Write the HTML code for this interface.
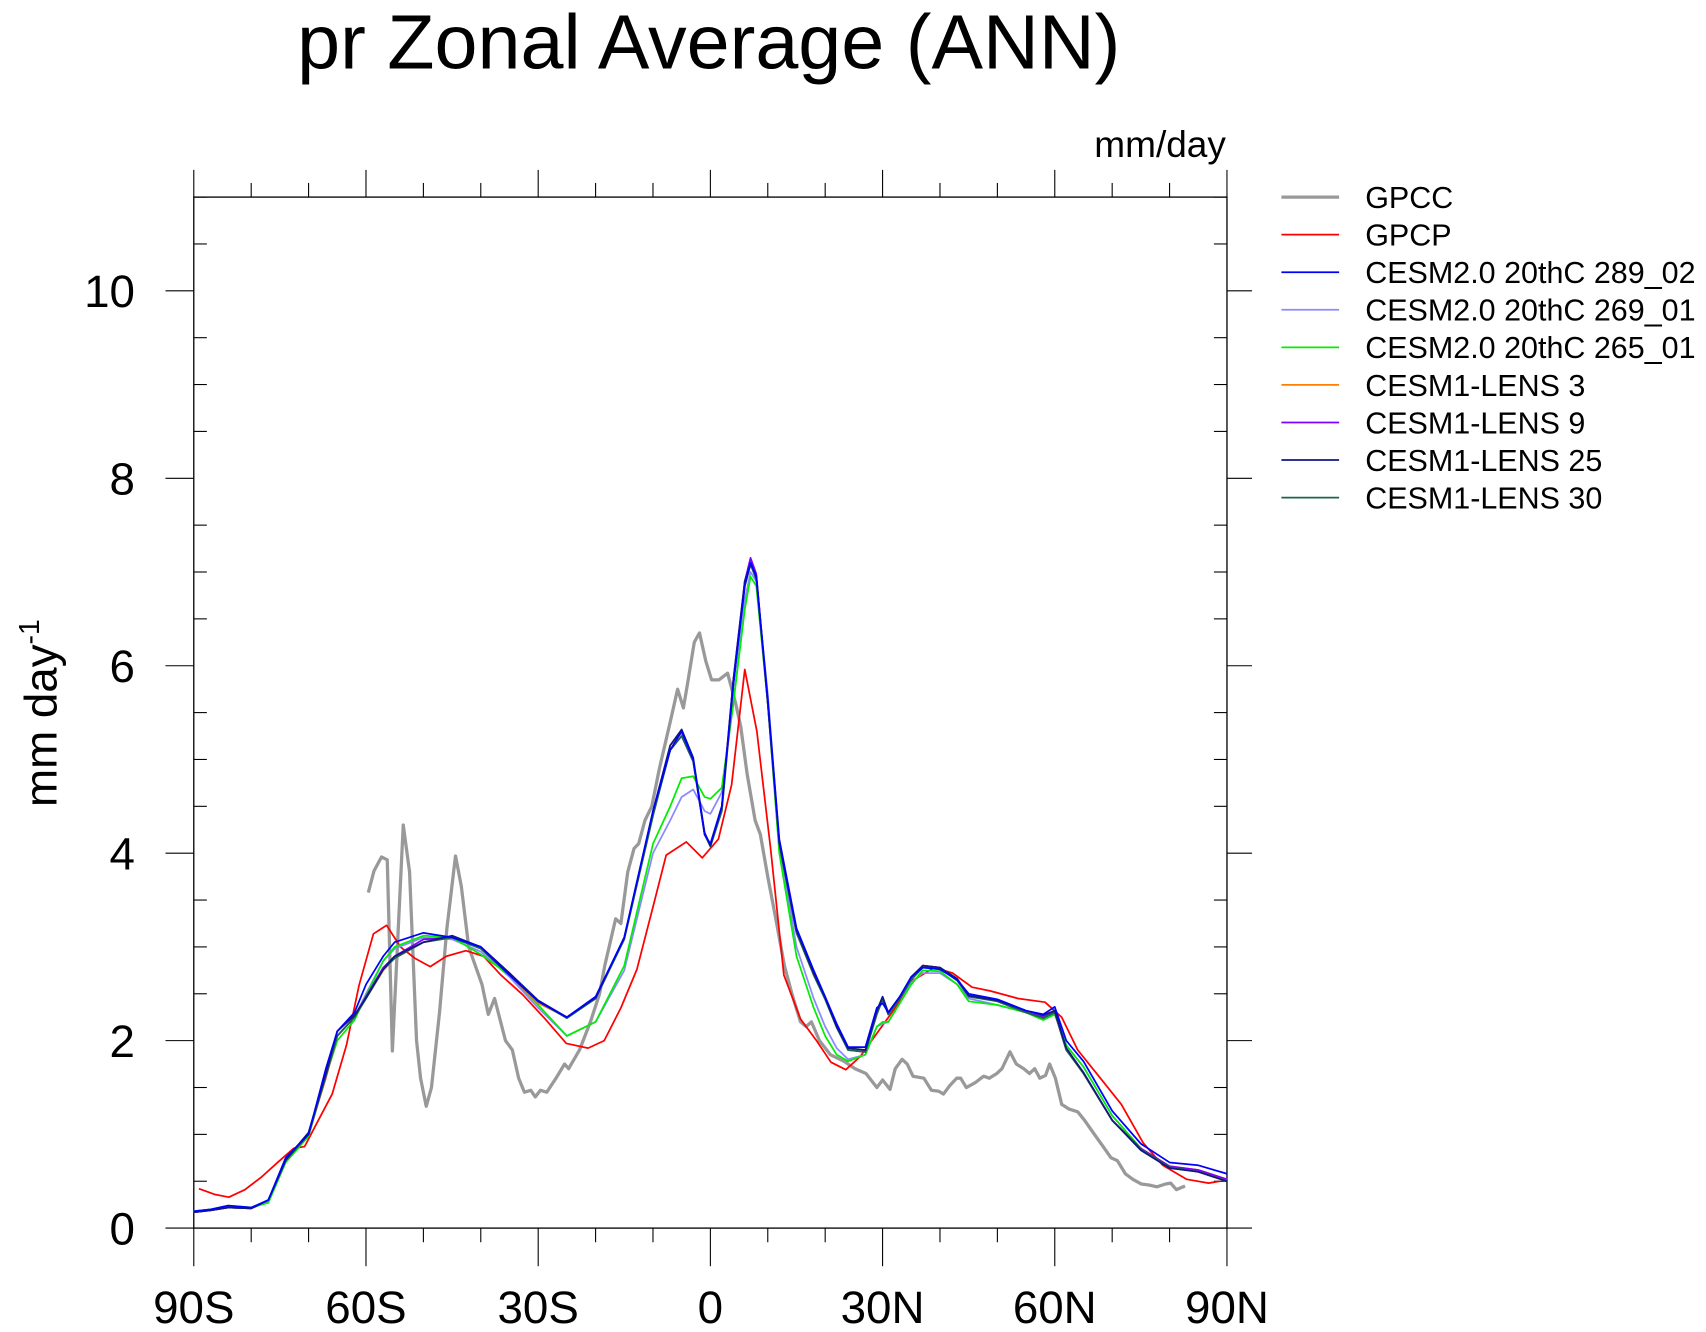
<!DOCTYPE html>
<html><head><meta charset="utf-8"><style>
html,body{margin:0;padding:0;background:#fff;}
svg{display:block;font-family:"Liberation Sans",sans-serif;}
</style></head><body>
<svg id="chart" width="1706" height="1332" viewBox="0 0 1567 1223.4" xmlns="http://www.w3.org/2000/svg">
<text x="651" y="63" font-size="71" text-anchor="middle">pr Zonal Average (ANN)</text>
<text x="1126" y="144" font-size="34" text-anchor="end">mm/day</text>
<text transform="translate(52,655) rotate(-90)" font-size="42" text-anchor="middle">mm day<tspan dy="-16" font-size="26">-1</tspan></text>
<g id="axes"></g>
<g id="series"></g>
<g id="legend"></g>
</svg>
<script>
const xTicks=[-90,-60,-30,0,30,60,90];
const xTickLabels=["90S","60S","30S","0","30N","60N","90N"];
const yTicks=[0,2,4,6,8,10];
const yTickLabels=["0","2","4","6","8","10"];
const seriesNames=["GPCC","GPCP","CESM2.0 20thC 289_02","CESM2.0 20thC 269_01","CESM2.0 20thC 265_01","CESM1-LENS 3","CESM1-LENS 9","CESM1-LENS 25","CESM1-LENS 30"];
const seriesColors=["#999999","#ff0000","#0000ff","#8a8aff","#00ee00","#ff8000","#8000ff","#101880","#1a6650"];
const gpccLat=[-59.6,-58.6,-57.3,-56.3,-55.4,-53.5,-52.4,-51.2,-50.5,-49.5,-48.6,-47.2,-45.9,-44.4,-43.4,-42.1,-39.8,-38.7,-37.6,-35.7,-34.5,-33.4,-32.4,-31.3,-30.5,-29.6,-28.5,-26.9,-25.4,-24.7,-22.8,-20.9,-19.3,-18.4,-16.5,-15.6,-14.4,-13.3,-12.5,-11.4,-10.2,-8.9,-7.0,-5.7,-4.7,-4.0,-2.8,-1.9,-0.8,0.2,1.5,3.0,4.4,5.3,6.4,7.8,8.7,10.0,11.4,12.9,14.2,15.7,16.7,17.6,19.0,20.9,23.3,25.2,27.1,29.0,30.0,31.3,32.2,33.4,34.3,35.3,37.2,38.5,39.8,40.6,41.7,42.9,43.6,44.6,46.1,47.6,48.6,49.9,50.8,52.2,53.3,54.6,55.6,56.5,57.4,58.4,59.1,60.1,61.2,62.5,64.0,65.2,66.9,68.3,69.8,70.9,72.3,73.6,75.1,76.4,77.8,79.3,80.2,81.2,82.7];
const gpccVal=[3.58,3.81,3.96,3.93,1.89,4.3,3.8,2.0,1.6,1.3,1.5,2.3,3.2,3.97,3.65,3.0,2.6,2.28,2.45,2.0,1.9,1.6,1.45,1.47,1.4,1.47,1.45,1.6,1.75,1.7,1.9,2.2,2.5,2.8,3.3,3.25,3.8,4.05,4.1,4.35,4.5,4.9,5.4,5.75,5.55,5.8,6.25,6.35,6.05,5.85,5.85,5.92,5.6,5.35,4.85,4.35,4.2,3.75,3.3,2.8,2.5,2.2,2.15,2.2,2.0,1.85,1.78,1.7,1.65,1.5,1.58,1.48,1.7,1.8,1.75,1.62,1.6,1.47,1.46,1.43,1.52,1.6,1.6,1.5,1.55,1.62,1.6,1.65,1.7,1.88,1.75,1.7,1.65,1.7,1.6,1.63,1.75,1.6,1.32,1.27,1.24,1.15,1.0,0.88,0.75,0.72,0.58,0.52,0.47,0.46,0.44,0.47,0.48,0.41,0.45];
const gpcpLat=[-89.1,-86.4,-83.9,-81.1,-78.3,-75.4,-72.6,-70.7,-68.4,-65.9,-63.4,-61.2,-58.7,-56.4,-54.0,-51.5,-48.8,-46.0,-42.6,-39.5,-36.5,-32.7,-28.9,-25.1,-21.3,-18.5,-15.6,-12.8,-9.9,-7.7,-4.2,-1.4,1.4,3.7,6.0,8.1,10.5,12.8,15.7,18.5,21.0,23.6,26.1,28.9,32.2,35.2,39.0,42.2,45.6,48.8,53.6,58.3,61.2,64.0,67.8,71.6,75.4,78.8,83.0,86.8,88.7];
const gpcpVal=[0.42,0.36,0.33,0.41,0.54,0.70,0.85,0.87,1.14,1.43,1.95,2.59,3.14,3.23,3.00,2.88,2.79,2.90,2.96,2.90,2.70,2.49,2.24,1.97,1.92,2.00,2.35,2.76,3.45,3.98,4.12,3.95,4.15,4.73,5.96,5.30,4.04,2.70,2.23,2.00,1.77,1.69,1.83,2.07,2.35,2.64,2.78,2.72,2.57,2.53,2.45,2.41,2.25,1.90,1.61,1.32,0.91,0.67,0.52,0.48,0.50];
const modelLat=[-90,-87,-84,-80,-77,-74,-70,-67,-65,-62,-60,-57,-55,-50,-45,-40,-35,-30,-25,-20,-15,-10,-7,-5,-3,-1,0,2,4,6,7,8,10,12,15,18,20,22,24,27,29,30,31,33,35,37,40,43,45,50,55,58,60,62,65,70,75,80,85,90];
const cesm2_289=[0.18,0.2,0.24,0.22,0.3,0.75,1.0,1.7,2.1,2.3,2.6,2.9,3.05,3.15,3.1,3.0,2.7,2.42,2.25,2.47,3.1,4.45,5.1,5.3,5.0,4.2,4.1,4.5,5.8,6.85,7.1,6.95,5.65,4.15,3.2,2.75,2.47,2.18,1.93,1.93,2.35,2.4,2.3,2.47,2.68,2.78,2.76,2.65,2.5,2.44,2.32,2.28,2.36,2.0,1.78,1.25,0.9,0.7,0.67,0.58];
const cesm2_269=[0.18,0.2,0.23,0.21,0.28,0.72,0.98,1.65,2.05,2.25,2.5,2.85,2.98,3.1,3.08,2.95,2.68,2.35,2.05,2.2,2.75,4.0,4.35,4.6,4.68,4.45,4.42,4.65,5.6,6.7,7.0,6.9,5.7,4.1,3.0,2.45,2.15,1.92,1.8,1.85,2.15,2.18,2.2,2.4,2.62,2.72,2.72,2.6,2.45,2.38,2.3,2.25,2.3,1.95,1.72,1.2,0.85,0.65,0.6,0.52];
const cesm2_265=[0.18,0.2,0.24,0.22,0.27,0.7,0.98,1.62,2.0,2.22,2.48,2.85,3.0,3.12,3.1,2.92,2.7,2.38,2.05,2.2,2.8,4.1,4.5,4.8,4.82,4.6,4.58,4.7,5.6,6.6,6.95,6.85,5.6,4.0,2.9,2.35,2.05,1.85,1.78,1.85,2.15,2.2,2.2,2.4,2.6,2.75,2.74,2.6,2.42,2.38,2.3,2.22,2.28,1.95,1.72,1.2,0.85,0.65,0.6,0.52];
const lens3=[0.17,0.19,0.22,0.21,0.3,0.72,1.0,1.6,2.05,2.25,2.45,2.75,2.88,3.05,3.1,3.0,2.7,2.4,2.25,2.45,3.1,4.4,5.15,5.28,5.0,4.2,4.08,4.45,5.8,6.9,7.12,6.95,5.6,4.1,3.15,2.7,2.45,2.15,1.9,1.88,2.3,2.45,2.28,2.45,2.66,2.8,2.78,2.65,2.48,2.42,2.3,2.25,2.3,1.9,1.65,1.15,0.85,0.66,0.62,0.52];
const lens9=[0.17,0.19,0.22,0.21,0.3,0.72,1.0,1.62,2.05,2.25,2.47,2.78,2.9,3.08,3.1,3.0,2.72,2.42,2.25,2.45,3.1,4.42,5.1,5.25,4.98,4.2,4.08,4.48,5.85,6.9,7.15,6.98,5.6,4.1,3.15,2.72,2.45,2.15,1.9,1.88,2.3,2.45,2.28,2.45,2.66,2.8,2.78,2.65,2.48,2.42,2.3,2.25,2.3,1.9,1.66,1.15,0.85,0.66,0.62,0.52];
const lens25=[0.17,0.19,0.22,0.21,0.3,0.73,1.02,1.65,2.1,2.27,2.46,2.76,2.9,3.05,3.12,3.0,2.72,2.43,2.25,2.46,3.1,4.45,5.15,5.32,5.02,4.22,4.08,4.5,5.85,6.9,7.1,6.95,5.62,4.12,3.18,2.72,2.46,2.15,1.92,1.9,2.32,2.47,2.3,2.47,2.68,2.8,2.78,2.66,2.48,2.43,2.32,2.27,2.32,1.92,1.66,1.15,0.83,0.64,0.6,0.5];
const lens30=[0.17,0.19,0.22,0.21,0.3,0.72,1.0,1.62,2.05,2.25,2.45,2.76,2.88,3.05,3.1,2.98,2.7,2.42,2.24,2.45,3.08,4.4,5.1,5.25,4.98,4.2,4.07,4.45,5.8,6.85,7.08,6.92,5.6,4.1,3.15,2.7,2.44,2.14,1.9,1.88,2.28,2.44,2.28,2.45,2.65,2.78,2.77,2.64,2.47,2.42,2.3,2.24,2.3,1.9,1.65,1.15,0.84,0.65,0.6,0.5];

const NS="http://www.w3.org/2000/svg";
const L=178,R=1127,T=181,B=1128,YMAX=11;
function xs(lat){return L+(lat+90)/180*(R-L);}
function ys(v){return B-v/YMAX*(B-T);}
function mk(tag,attrs,parent){const e=document.createElementNS(NS,tag);for(const k in attrs)e.setAttribute(k,attrs[k]);parent.appendChild(e);return e;}
const axes=document.getElementById('axes');
const frame=mk('rect',{x:L,y:T,width:R-L,height:B-T,fill:'none',stroke:'#000','stroke-width':1.2},axes);


for(let lat=-90;lat<=90;lat+=10){
  const major=lat%30===0;const x=xs(lat);
  const t1=mk('line',{x1:x,x2:x,y1:B,y2:B+(major?35:13),stroke:'#000','stroke-width':1},axes);
  
  
  const t2=mk('line',{x1:x,x2:x,y1:T,y2:T-(major?25:13),stroke:'#000','stroke-width':1},axes);
  
  
}
for(let v=0;v<=11.001;v+=0.5){
  const major=Math.abs(v%2)<1e-6;const y=ys(v);
  const t1=mk('line',{x1:L-(major?26:0),x2:L,y1:y,y2:y,stroke:'#000','stroke-width':1},axes);
  
  
  const t2=mk('line',{x1:R,x2:R+(major?23:0),y1:y,y2:y,stroke:'#000','stroke-width':1},axes);
  
  
  if(!major){
    const m1=mk('line',{x1:L,x2:L+12,y1:y,y2:y,stroke:'#000','stroke-width':1},axes);
    
    
    const m2=mk('line',{x1:R-12,x2:R,y1:y,y2:y,stroke:'#000','stroke-width':1},axes);
    
    
  }
}
xTicks.forEach((lat,i)=>{
  const t=mk('text',{x:xs(lat),y:B+87,'font-size':42,'text-anchor':'middle'},axes);
  t.textContent=xTickLabels[i];
  
  
});
yTicks.forEach((v,i)=>{
  const t=mk('text',{x:124,y:ys(v)+15,'font-size':42,'text-anchor':'end'},axes);
  t.textContent=yTickLabels[i];
  
  
});
const seriesG=document.getElementById('series');
const allLat=[gpccLat,gpcpLat,modelLat,modelLat,modelLat,modelLat,modelLat,modelLat,modelLat];
const allVal=[gpccVal,gpcpVal,cesm2_289,cesm2_269,cesm2_265,lens3,lens9,lens25,lens30];
const order=[0,1,3,4,5,6,8,7,2];
order.forEach(i=>{
  const pts=allLat[i].map((lat,j)=>xs(lat).toFixed(1)+','+ys(allVal[i][j]).toFixed(1)).join(' ');
  const p=mk('polyline',{points:pts,fill:'none',stroke:seriesColors[i],'stroke-width':i===0?3:1.6,'stroke-linejoin':'round'},seriesG);
  
  
});
const lg=document.getElementById('legend');
seriesNames.forEach((n,i)=>{
  const y=181+i*34.5;
  const l=mk('line',{x1:1177,x2:1230,y1:y,y2:y,stroke:seriesColors[i],'stroke-width':i===0?3:1.6},lg);
  
  
  const t=mk('text',{x:1254,y:y+10,'font-size':28},lg);
  t.textContent=n;
  
  
});
</script>
</body></html>
